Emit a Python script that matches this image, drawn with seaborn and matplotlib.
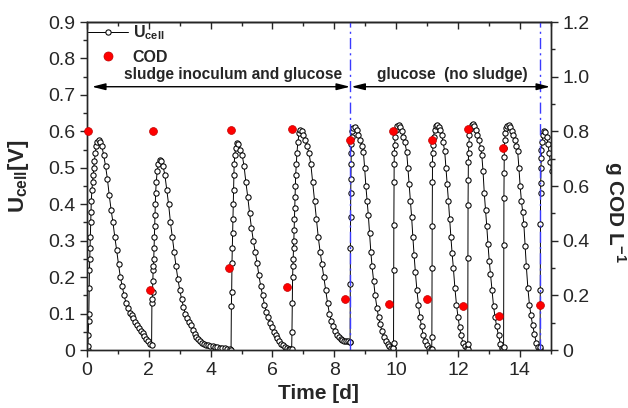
import numpy as np
import pandas as pd
import seaborn as sns
import matplotlib.pyplot as plt
from matplotlib.lines import Line2D
from matplotlib.ticker import MultipleLocator, FuncFormatter

# cell voltage per feeding cycle (time in d, U in V)
c1_t = [0.02, 0.03, 0.04, 0.05, 0.06, 0.07, 0.08, 0.09, 0.10, 0.11, 0.12, 0.13, 0.14,
        0.16, 0.18, 0.20, 0.22, 0.24, 0.27, 0.30, 0.34, 0.38, 0.42,
        0.48, 0.54, 0.60, 0.66, 0.72, 0.78, 0.84, 0.90, 0.96, 1.02, 1.08, 1.14, 1.20, 1.26,
        1.32, 1.38, 1.44, 1.50, 1.56, 1.62, 1.68, 1.74, 1.80, 1.86, 1.92, 1.98, 2.04]
c1_u = [0.00, 0.01, 0.04, 0.08, 0.10, 0.17, 0.22, 0.25, 0.28, 0.31, 0.35, 0.38, 0.41,
        0.44, 0.46, 0.48, 0.50, 0.52, 0.54, 0.56, 0.572, 0.576, 0.572,
        0.56, 0.535, 0.505, 0.47, 0.425, 0.385, 0.35, 0.31, 0.274, 0.235, 0.20, 0.175, 0.15, 0.13,
        0.115, 0.103, 0.095, 0.088, 0.078, 0.068, 0.06, 0.053, 0.046, 0.038, 0.03, 0.024, 0.018]

c2_t = [2.09, 2.10, 2.11, 2.12, 2.13, 2.14, 2.15, 2.16, 2.17, 2.18, 2.19, 2.20, 2.21, 2.22,
        2.24, 2.27, 2.31, 2.36, 2.41, 2.46,
        2.52, 2.58, 2.64, 2.70, 2.76, 2.82, 2.88, 2.94, 3.00, 3.06, 3.12, 3.18, 3.24, 3.30,
        3.36, 3.42, 3.48, 3.54, 3.60, 3.66, 3.72, 3.78, 3.84, 3.90,
        3.98, 4.06, 4.14, 4.22, 4.30, 4.38, 4.46, 4.54, 4.62]
c2_u = [0.013, 0.13, 0.14, 0.16, 0.19, 0.22, 0.23, 0.25, 0.28, 0.31, 0.34, 0.37, 0.40, 0.43,
        0.46, 0.49, 0.51, 0.521, 0.518, 0.505,
        0.48, 0.44, 0.40, 0.35, 0.31, 0.27, 0.23, 0.195, 0.165, 0.14, 0.119, 0.10, 0.088, 0.078,
        0.068, 0.055, 0.045, 0.037, 0.03, 0.025, 0.02, 0.017, 0.015, 0.013,
        0.011, 0.010, 0.009, 0.008, 0.007, 0.006, 0.005, 0.004, 0.003]

c3_t = [4.66, 4.67, 4.68, 4.69, 4.70, 4.71, 4.72, 4.73, 4.74, 4.75, 4.76,
        4.78, 4.81, 4.85, 4.90, 4.96,
        5.02, 5.08, 5.14, 5.20, 5.26, 5.32, 5.38, 5.44, 5.50, 5.56, 5.62, 5.68, 5.74, 5.80,
        5.86, 5.92, 5.98, 6.04, 6.10, 6.16, 6.22, 6.28, 6.34, 6.40, 6.46, 6.52, 6.58]
c3_u = [0.0, 0.12, 0.16, 0.24, 0.28, 0.32, 0.36, 0.40, 0.44, 0.48, 0.51,
        0.535, 0.555, 0.567, 0.565, 0.55,
        0.535, 0.505, 0.46, 0.42, 0.375, 0.335, 0.30, 0.27, 0.24, 0.205, 0.175, 0.15, 0.125, 0.105,
        0.09, 0.075, 0.062, 0.05, 0.04, 0.032, 0.025, 0.018, 0.013, 0.009, 0.006, 0.004, 0.003]

c4_t = [6.62, 6.63, 6.64, 6.65, 6.66, 6.67, 6.68, 6.69, 6.70, 6.71, 6.72, 6.73, 6.74, 6.75,
        6.77, 6.79, 6.82, 6.86, 6.90, 6.95, 7.00,
        7.06, 7.12, 7.18, 7.24, 7.30, 7.36, 7.42, 7.48, 7.54, 7.60, 7.66, 7.72, 7.78, 7.84,
        7.90, 7.96, 8.02, 8.08, 8.14, 8.20, 8.26, 8.32, 8.38, 8.44, 8.50]
c4_u = [0.003, 0.05, 0.13, 0.20, 0.23, 0.25, 0.28, 0.30, 0.33, 0.36, 0.39, 0.42, 0.45, 0.48,
        0.51, 0.54, 0.57, 0.595, 0.604, 0.60, 0.59,
        0.575, 0.56, 0.54, 0.51, 0.46, 0.41, 0.36, 0.31, 0.27, 0.235, 0.20, 0.165, 0.13, 0.10,
        0.08, 0.065, 0.052, 0.042, 0.035, 0.031, 0.028, 0.026, 0.025, 0.024, 0.023]

c5_t = [8.51, 8.515, 8.52, 8.525, 8.53, 8.535, 8.54, 8.545, 8.55,
        8.56, 8.58, 8.62, 8.67, 8.72, 8.78, 8.84, 8.90, 8.94,
        8.98, 9.02, 9.06, 9.10, 9.14, 9.18, 9.22,
        9.27, 9.32, 9.38, 9.43, 9.48,
        9.54, 9.60, 9.66, 9.72, 9.78, 9.84, 9.90]
c5_u = [0.023, 0.18, 0.28, 0.366, 0.43, 0.47, 0.51, 0.54, 0.565,
        0.585, 0.60, 0.61, 0.613, 0.605, 0.59, 0.575, 0.56, 0.544,
        0.50, 0.45, 0.41, 0.37, 0.32, 0.27, 0.23,
        0.19, 0.15, 0.115, 0.09, 0.072,
        0.052, 0.037, 0.026, 0.017, 0.011, 0.007, 0.005]

c6_t = [9.91, 9.915, 9.92, 9.925, 9.93, 9.935, 9.94,
        9.95, 9.97, 10.00, 10.04, 10.08, 10.13, 10.18, 10.23, 10.28, 10.34,
        10.38, 10.42, 10.46, 10.50, 10.54, 10.58, 10.62,
        10.67, 10.72, 10.77, 10.82, 10.88, 10.94, 11.00, 11.06, 11.12]
c6_u = [0.005, 0.02, 0.22, 0.343, 0.46, 0.51, 0.54,
        0.563, 0.585, 0.604, 0.615, 0.617, 0.612, 0.60, 0.585, 0.57, 0.544,
        0.50, 0.455, 0.41, 0.365, 0.31, 0.26, 0.215,
        0.165, 0.125, 0.09, 0.065, 0.04, 0.024, 0.013, 0.007, 0.004]

c7_t = [11.15, 11.155, 11.16, 11.165, 11.17, 11.175, 11.18,
        11.19, 11.21, 11.24, 11.28, 11.32, 11.37, 11.42, 11.47, 11.52, 11.57,
        11.61, 11.65, 11.69, 11.73, 11.77, 11.81, 11.85,
        11.90, 11.95, 12.00, 12.05, 12.10, 12.16, 12.22, 12.28]
c7_u = [0.004, 0.036, 0.224, 0.34, 0.46, 0.51, 0.54,
        0.563, 0.585, 0.604, 0.615, 0.617, 0.612, 0.605, 0.59, 0.57, 0.545,
        0.50, 0.455, 0.41, 0.36, 0.31, 0.265, 0.225,
        0.17, 0.125, 0.091, 0.062, 0.04, 0.02, 0.01, 0.005]

c8_t = [12.31, 12.315, 12.32, 12.325, 12.33, 12.335, 12.34,
        12.35, 12.37, 12.40, 12.44, 12.48, 12.53, 12.58, 12.63, 12.68, 12.73,
        12.77, 12.81, 12.85, 12.89, 12.93, 12.97, 13.01,
        13.05, 13.10, 13.15, 13.20, 13.25, 13.31, 13.37, 13.43]
c8_u = [0.004, 0.016, 0.252, 0.398, 0.466, 0.515, 0.54,
        0.565, 0.59, 0.607, 0.617, 0.62, 0.615, 0.605, 0.59, 0.575, 0.555,
        0.535, 0.49, 0.43, 0.385, 0.34, 0.29, 0.245,
        0.21, 0.165, 0.12, 0.09, 0.065, 0.04, 0.018, 0.006]

c9_t = [13.47, 13.475, 13.48, 13.485, 13.49, 13.495, 13.50,
        13.51, 13.53, 13.56, 13.60, 13.64, 13.69, 13.74, 13.79, 13.84, 13.89,
        13.93, 13.97, 14.01, 14.05, 14.09, 14.13, 14.17,
        14.21, 14.26, 14.31, 14.36, 14.41, 14.47, 14.53, 14.59]
c9_u = [0.003, 0.009, 0.288, 0.416, 0.485, 0.53, 0.555,
        0.575, 0.595, 0.608, 0.616, 0.617, 0.612, 0.60, 0.59, 0.575, 0.56,
        0.545, 0.50, 0.45, 0.41, 0.38, 0.345, 0.285,
        0.23, 0.17, 0.125, 0.095, 0.07, 0.045, 0.02, 0.008]

c10_t = [14.65, 14.655, 14.66, 14.665, 14.67, 14.675, 14.68, 14.69, 14.70,
         14.72, 14.75, 14.79, 14.83, 14.87, 14.91, 14.95, 14.99, 15.03]
c10_u = [0.003, 0.009, 0.165, 0.347, 0.43, 0.457, 0.50, 0.526, 0.549,
         0.572, 0.59, 0.60, 0.597, 0.585, 0.565, 0.54, 0.515, 0.49]

# COD samples (g COD/L)
cod_t = [0.04, 2.04, 2.12, 4.59, 4.66, 6.48, 6.62, 8.35, 8.51,
         9.78, 9.91, 11.01, 11.15, 12.16, 12.32, 13.31, 13.47, 14.64]
cod_g = [0.80, 0.22, 0.80, 0.30, 0.805, 0.23, 0.807, 0.185, 0.77,
         0.17, 0.80, 0.185, 0.77, 0.16, 0.807, 0.125, 0.74, 0.166]

# feeding change (sludge removed) and end of run
phase_t = [8.51, 14.66]

sns.set_style('ticks')
plt.rcParams['font.family'] = ['Liberation Sans', 'DejaVu Sans']
plt.rcParams['mathtext.fontset'] = 'custom'
plt.rcParams['mathtext.rm'] = 'Liberation Sans:bold'
plt.rcParams['mathtext.bf'] = 'Liberation Sans:bold'
plt.rcParams['mathtext.it'] = 'Liberation Sans:bold'
plt.rcParams['axes.linewidth'] = 1.0

all_t = c1_t + c2_t + c3_t + c4_t + c5_t + c6_t + c7_t + c8_t + c9_t + c10_t
all_u = c1_u + c2_u + c3_u + c4_u + c5_u + c6_u + c7_u + c8_u + c9_u + c10_u
df = pd.DataFrame({'t': all_t, 'u': all_u})

fig, ax = plt.subplots(figsize=(6.28, 4.08), dpi=100)
fig.subplots_adjust(left=0.1385, right=0.877, bottom=0.142, top=0.946)

sns.lineplot(data=df, x='t', y='u', ax=ax, sort=False, estimator=None,
             color='black', lw=0.7, marker='o', markersize=3.8,
             markerfacecolor='white', markeredgecolor='black', markeredgewidth=0.75)

for xv in phase_t:
    ax.axvline(xv, color='#3a3aff', ls=(0, (8, 3, 1.5, 3)), lw=1.0, zorder=3)

ax.set_xlim(0, 15)
ax.set_ylim(0, 0.9)

ax2 = ax.twinx()
sns.scatterplot(x=cod_t, y=cod_g, ax=ax2, color='#ff0000', s=32,
                edgecolor='#c00000', linewidth=0.5, zorder=5, clip_on=False)
ax2.set_ylim(0, 1.2)

# arrows + phase text
ax.annotate('', xy=(0.16, 0.7225), xytext=(8.51, 0.7225),
            arrowprops=dict(arrowstyle='<|-|>,head_length=0.8,head_width=0.2',
                            color='black', lw=1.0, shrinkA=0, shrinkB=0))
ax.annotate('', xy=(8.55, 0.7225), xytext=(14.98, 0.7225),
            arrowprops=dict(arrowstyle='<|-|>,head_length=0.8,head_width=0.2',
                            color='black', lw=1.0, shrinkA=0, shrinkB=0))
ax.text(4.72, 0.755, 'sludge inoculum and glucose', ha='center', va='center',
        fontsize=11.2, fontweight='bold')
ax.text(11.83, 0.755, 'glucose  (no sludge)', ha='center', va='center',
        fontsize=11.2, fontweight='bold')

# ticks
fmt = FuncFormatter(lambda v, _: '0' if abs(v) < 1e-9 else f'{v:.1f}')
ax.xaxis.set_major_locator(MultipleLocator(2))
ax.xaxis.set_minor_locator(MultipleLocator(1))
ax.yaxis.set_major_locator(MultipleLocator(0.1))
ax.yaxis.set_minor_locator(MultipleLocator(0.05))
ax.yaxis.set_major_formatter(fmt)
ax2.yaxis.set_major_locator(MultipleLocator(0.2))
ax2.yaxis.set_minor_locator(MultipleLocator(0.1))
ax2.yaxis.set_major_formatter(fmt)
for a in (ax, ax2):
    a.tick_params(which='major', direction='out', length=5, width=1, labelsize=14)
    a.tick_params(which='minor', direction='out', length=3, width=1)
ax.tick_params(top=False, which='both')

top = ax.secondary_xaxis('top')
top.xaxis.set_major_locator(MultipleLocator(2))
top.xaxis.set_minor_locator(MultipleLocator(1))
top.tick_params(which='major', direction='in', length=5, width=1, labeltop=False)
top.tick_params(which='minor', direction='in', length=3, width=1)

ax.set_xlabel('Time [d]', fontsize=15, fontweight='bold')
ax.set_ylabel(r'U$_{\mathbf{cell}}$[V]', fontsize=16, fontweight='bold')
ax.yaxis.set_label_coords(-0.12, 0.53)
ax2.set_ylabel(r'g COD L$^{\mathbf{-1}}$', fontsize=15, fontweight='bold',
               rotation=270, va='bottom')
ax2.yaxis.set_label_coords(1.11, 0.42)

handles = [Line2D([], [], color='black', lw=0.7, marker='o', markersize=3.8,
                  markerfacecolor='white', markeredgecolor='black', markeredgewidth=0.75),
           Line2D([], [], ls='none', marker='o', markersize=6.5,
                  color='#ff0000', markeredgecolor='#c00000', markeredgewidth=0.5)]
ax2.legend(handles, [r'U$_{\mathbf{cell}}$', 'COD'], loc='upper left',
           bbox_to_anchor=(0.002, 0.995), frameon=False,
           prop={'size': 11.5, 'weight': 'bold'}, handlelength=2.5,
           handletextpad=0.3, labelspacing=0.45, borderaxespad=0, borderpad=0)

fig.savefig('out.png', dpi=100)
